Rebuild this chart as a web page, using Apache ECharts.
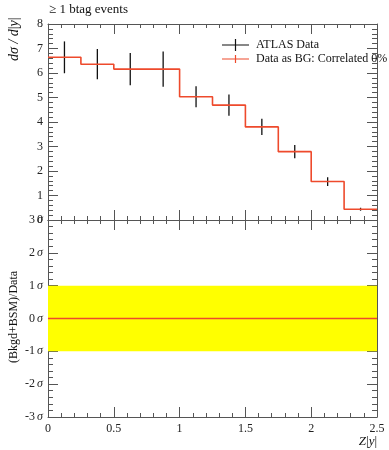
<!DOCTYPE html>
<html><head><meta charset="utf-8">
<script src="https://cdn.jsdelivr.net/npm/echarts@6/dist/echarts.min.js"></script>
<style>html,body{margin:0;padding:0;background:#fff}#c{width:389px;height:450px}</style>
</head><body><div id="c"></div>
<script>
// ---- data ----
const binEdges = [0, 0.25, 0.5, 0.75, 1, 1.25, 1.5, 1.75, 2, 2.25, 2.5];
const atlasData = [6.64, 6.36, 6.16, 6.16, 5.03, 4.69, 3.80, 2.79, 1.57, 0.44];
const atlasErr  = [0.65, 0.62, 0.66, 0.72, 0.43, 0.43, 0.33, 0.27, 0.18, 0.06];
const bgData    = [6.64, 6.36, 6.16, 6.16, 5.03, 4.69, 3.80, 2.79, 1.57, 0.44];
const sigmaDev  = [0, 0, 0, 0, 0, 0, 0, 0, 0, 0];
const bandLow = -1, bandHigh = 1;
const xTickLabels = ['0', '0.5', '1', '1.5', '2', '2.5'];
const seriesNames = ['ATLAS Data', 'Data as BG: Correlated 0%'];

// ---- styles ----
const FONT = 'Liberation Serif';
const AX = '#555';
const RED = '#ee4a2c';

function stepPoints(vals) {
  const pts = vals.map((v, i) => [binEdges[i], v]);
  pts.push([binEdges[binEdges.length - 1], vals[vals.length - 1]]);
  return pts;
}
const errData = atlasData.map((v, i) => [(binEdges[i] + binEdges[i + 1]) / 2, v, atlasErr[i]]);

function xAxis(grid, pos, labels) {
  return {
    type: 'value', gridIndex: grid, position: pos, min: 0, max: 2.5, interval: 0.5,
    axisLine: { show: true, onZero: false, lineStyle: { color: AX, width: 1 } },
    axisTick: { show: true, inside: true, length: 10, lineStyle: { color: AX } },
    minorTick: { show: true, splitNumber: 5, length: 4, lineStyle: { color: AX } },
    splitLine: { show: false },
    axisLabel: labels ? {
      show: true, fontFamily: FONT, fontSize: 12, color: '#222', margin: 6,
      formatter: v => { const s = xTickLabels.find(t => parseFloat(t) === v); return s !== undefined ? s : ''; }
    } : { show: false }
  };
}
function yAxis(grid, pos, min, max, labelFmt) {
  return {
    type: 'value', gridIndex: grid, position: pos, min: min, max: max, interval: 1,
    axisLine: { show: true, onZero: false, lineStyle: { color: AX, width: 1 } },
    axisTick: { show: true, inside: true, length: 10, lineStyle: { color: AX } },
    minorTick: { show: true, splitNumber: 5, length: 5, lineStyle: { color: AX } },
    splitLine: { show: false },
    axisLabel: labelFmt ? Object.assign({
      show: true, fontFamily: FONT, fontSize: 12, color: '#222', margin: 5
    }, labelFmt) : { show: false }
  };
}

const chart = echarts.init(document.getElementById('c'), null, { renderer: 'canvas' });
chart.setOption({
  animation: false,
  backgroundColor: '#fff',
  grid: [
    { left: 48, top: 24, width: 329, height: 196 },
    { left: 48, top: 220, width: 329, height: 197 }
  ],
  xAxis: [
    xAxis(0, 'bottom', false), xAxis(0, 'top', false),
    xAxis(1, 'bottom', true), xAxis(1, 'top', false)
  ],
  yAxis: [
    yAxis(0, 'left', 0, 8, { formatter: v => String(v) }),
    yAxis(0, 'right', 0, 8, null),
    yAxis(1, 'left', -3, 3, {
      formatter: v => '{n|' + (v < 0 ? '-' : '') + Math.abs(v) + '}{s|σ}',
      rich: { n: { fontFamily: FONT, fontSize: 12, color: '#222' },
              s: { fontFamily: FONT, fontSize: 12, fontStyle: 'italic', color: '#222', padding: [0, 0, 0, 2] } }
    }),
    yAxis(1, 'right', -3, 3, null)
  ],
  legend: {
    orient: 'vertical', left: 217, top: 34, itemWidth: 27, itemHeight: 12, itemGap: 2,
    textStyle: { fontFamily: FONT, fontSize: 12, color: '#111', padding: [0, 0, 0, 2] },
    data: [
      { name: seriesNames[0], icon: 'path://M0,5.4L27,5.4L27,6.6L0,6.6Z M12.9,0L14.1,0L14.1,12L12.9,12Z', itemStyle: { color: '#111' } },
      { name: seriesNames[1], icon: 'path://M0,5.4L27,5.4L27,6.6L0,6.6Z M12.9,2L14.1,2L14.1,10L12.9,10Z', itemStyle: { color: RED } }
    ]
  },
  graphic: [
    { type: 'text', left: 49, top: 3, style: { text: '≥ 1 btag events', font: '13px ' + FONT, fill: '#111' } },
    { type: 'text', x: 7, y: 61, rotation: Math.PI / 2,
      style: { text: '{i|dσ / d}{n||}{i|y}{n||}', fill: '#111',
        rich: { i: { fontFamily: FONT, fontSize: 14, fontStyle: 'italic' }, n: { fontFamily: FONT, fontSize: 14 } },
        align: 'left', verticalAlign: 'top' } },
    { type: 'text', x: 8, y: 363, rotation: Math.PI / 2,
      style: { text: '(Bkgd+BSM)/Data', font: '12px ' + FONT, fill: '#111', align: 'left', verticalAlign: 'top' } },
    { type: 'text', right: 12, top: 435,
      style: { text: '{i|Z}{n||}{i|y}{n||}', fill: '#111',
        rich: { i: { fontFamily: FONT, fontSize: 13, fontStyle: 'italic' }, n: { fontFamily: FONT, fontSize: 13 } } } }
  ],
  series: [
    {
      name: seriesNames[0], type: 'custom', xAxisIndex: 0, yAxisIndex: 0,
      itemStyle: { color: '#111' },
      encode: { x: 0, y: 1 },
      data: errData,
      renderItem: function (params, api) {
        const x = api.value(0), y = api.value(1), e = api.value(2);
        const p1 = api.coord([x, y + e]), p2 = api.coord([x, y - e]);
        return { type: 'line', shape: { x1: p1[0], y1: p1[1], x2: p2[0], y2: p2[1] },
          style: { stroke: '#111', lineWidth: 1.3 } };
      },
      z: 3
    },
    {
      name: seriesNames[1], type: 'line', xAxisIndex: 0, yAxisIndex: 0, step: 'end',
      data: stepPoints(bgData), showSymbol: false, symbol: 'none',
      lineStyle: { color: RED, width: 1.6 }, itemStyle: { color: RED }, z: 4
    },
    {
      name: 'band', type: 'line', xAxisIndex: 2, yAxisIndex: 2, step: 'end',
      data: stepPoints(sigmaDev), showSymbol: false, symbol: 'none',
      lineStyle: { color: RED, width: 1.4 }, z: 4,
      markArea: {
        silent: true, itemStyle: { color: '#ffff00', opacity: 1 },
        data: [[{ yAxis: bandLow }, { yAxis: bandHigh }]]
      }
    }
  ]
});
</script>
</body></html>
